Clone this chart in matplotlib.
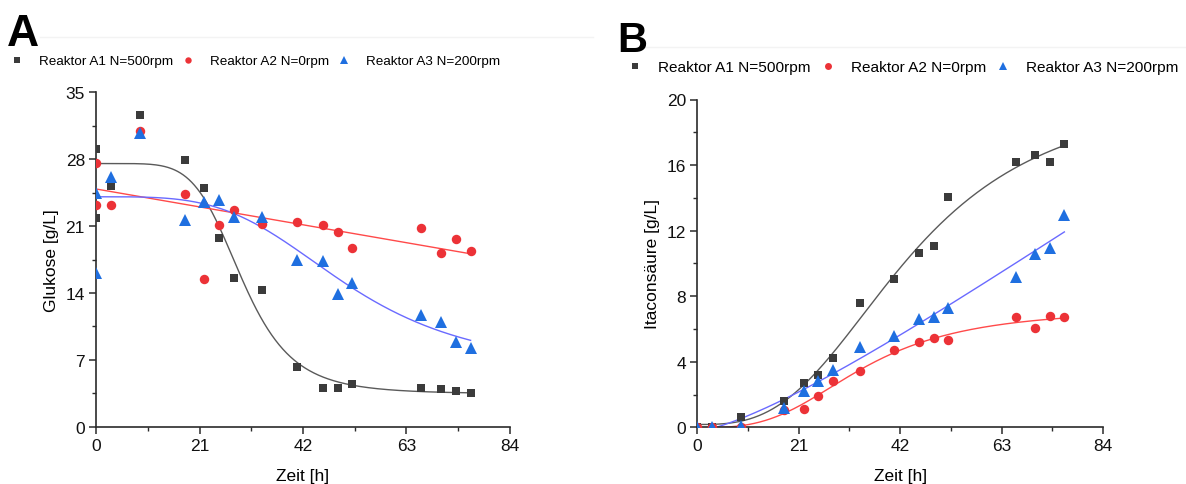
import numpy as np
import matplotlib
matplotlib.use("Agg")
import matplotlib.pyplot as plt
from matplotlib.ticker import MultipleLocator, FixedLocator
from matplotlib.lines import Line2D

plt.rcParams['font.family'] = ['Liberation Sans', 'DejaVu Sans']

# ---------------- data ----------------
series_labels = ["Reaktor A1 N=500rpm", "Reaktor A2 N=0rpm", "Reaktor A3 N=200rpm"]

# glucose [g/L]
time_glc = [0, 0, 3, 9, 18, 22, 25, 28, 33.75, 40.75, 46, 49, 52, 66, 70, 73, 76]
glc_a1 = [29.1, 21.8, 25.2, 32.6, 27.9, 25.0, 19.7, 15.6, 14.3, 6.3, 4.0, 4.0, 4.5, 4.0, 3.9, 3.7, 3.5]
glc_a2 = [27.6, 23.2, 23.2, 30.9, 24.4, 15.5, 21.1, 22.7, 21.2, 21.4, 21.1, 20.4, 18.7, 20.8, 18.2, 19.6, 18.4]
glc_a3 = [24.5, 16.1, 26.1, 30.7, 21.6, 23.5, 23.7, 22.0, 22.0, 17.5, 17.3, 13.9, 15.0, 11.7, 11.0, 8.9, 8.2]

# itaconic acid [g/L]
time_ita = [0, 3, 9, 18, 22, 25, 28, 33.75, 40.75, 46, 49, 52, 66, 70, 73, 76]
ita_a1 = [0.0, 0.02, 0.61, 1.63, 2.70, 3.21, 4.25, 7.60, 9.04, 10.65, 11.08, 14.07, 16.2, 16.63, 16.16, 17.3]
ita_a2 = [0.0, 0.0, 0.02, 1.05, 1.12, 1.89, 2.82, 3.41, 4.73, 5.22, 5.46, 5.34, 6.71, 6.04, 6.77, 6.74]
ita_a3 = [0.0, 0.02, 0.05, 1.20, 2.23, 2.80, 3.51, 4.92, 5.59, 6.62, 6.74, 7.25, 9.20, 10.60, 10.95, 12.94]

# regression model used for each trend line
models_glc = ['logistic', 'linear', 'logistic']
models_ita = ['logistic', 'logistic', 'logistic']

x_ticks = [0, 21, 42, 63, 84]
y_ticks_glc = [0, 7, 14, 21, 28, 35]
y_ticks_ita = [0, 4, 8, 12, 16, 20]

# ---------------- styling ----------------
axis_col = '#2b2b2b'
marker_cols = ['#3b3b3b', '#ec3237', '#1f6fe0']
curve_cols = ['#5a5a5a', '#ff4a4a', '#6a6aff']
markers = ['s', 'o', '^']
marker_sizes = [6.2, 6.8, 8.0]


def logistic(t, a1, a2, x0, p):
    t = np.asarray(t, float)
    return a2 + (a1 - a2) / (1.0 + (t / x0) ** p)


def fit_logistic(t, y):
    """Least-squares fit of y = A2 + (A1-A2)/(1+(t/x0)^p) on a (x0, p) grid,
    with A1/A2 solved exactly for every grid node."""
    t = np.asarray(t, float)
    y = np.asarray(y, float)
    x0s = np.geomspace(5, 3000, 260)
    ps = np.linspace(0.5, 20, 235)
    X0, P = np.meshgrid(x0s, ps, indexing='ij')
    f = 1.0 / (1.0 + (t[None, None, :] / X0[..., None]) ** P[..., None])
    g = 1.0 - f
    sff = (f * f).sum(-1); sgg = (g * g).sum(-1); sfg = (f * g).sum(-1)
    sfy = (f * y).sum(-1); sgy = (g * y).sum(-1)
    det = sff * sgg - sfg ** 2
    det = np.where(np.abs(det) < 1e-12, np.nan, det)
    a1 = (sfy * sgg - sgy * sfg) / det
    a2 = (sgy * sff - sfy * sfg) / det
    pred = a1[..., None] * f + a2[..., None] * g
    res = ((pred - y) ** 2).sum(-1)
    res = np.where(np.isfinite(res), res, np.inf)
    i, j = np.unravel_index(np.argmin(res), res.shape)
    return a1[i, j], a2[i, j], X0[i, j], P[i, j]


def trend(t, y, model, t_new):
    if model == 'linear':
        return np.polyval(np.polyfit(t, y, 1), t_new)
    return logistic(t_new, *fit_logistic(t, y))


def style_axes(ax, yticks):
    for s in ('top', 'right'):
        ax.spines[s].set_visible(False)
    for s in ('left', 'bottom'):
        ax.spines[s].set_color(axis_col)
        ax.spines[s].set_linewidth(1.2)
    ax.set_xlim(x_ticks[0], x_ticks[-1])
    ax.set_ylim(yticks[0], yticks[-1])
    ax.xaxis.set_major_locator(FixedLocator(x_ticks))
    ax.xaxis.set_minor_locator(MultipleLocator((x_ticks[1] - x_ticks[0]) / 2))
    ax.yaxis.set_major_locator(FixedLocator(yticks))
    ax.yaxis.set_minor_locator(MultipleLocator((yticks[1] - yticks[0]) / 2))
    ax.tick_params(which='major', direction='out', length=5, width=1.1,
                   color=axis_col, labelsize=12.5, labelcolor='#111111', pad=3)
    ax.tick_params(which='minor', direction='out', length=3, width=1.0, color=axis_col)


def draw_panel(ax, t, ys, models, yticks, ylabel):
    t_fit = np.linspace(min(t), max(t), 400)
    for y, model, cc in zip(ys, models, curve_cols):
        ax.plot(t_fit, trend(t, y, model, t_fit), color=cc, lw=1.0, zorder=2)
    for y, mc, mk, ms in zip(ys, marker_cols, markers, marker_sizes):
        ax.plot(t, y, linestyle='none', marker=mk, ms=ms, color=mc,
                markeredgewidth=0, zorder=3)
    style_axes(ax, yticks)
    ax.set_xlabel('Zeit [h]', fontsize=12.5)
    ax.set_ylabel(ylabel, fontsize=12.5)
    ax.xaxis.label.set_va('center')
    ax.yaxis.label.set_va('center')


W, H = 1186, 485
fig = plt.figure(figsize=(W / 100, H / 100), dpi=100)
fig.patch.set_facecolor('white')

axA = fig.add_axes([96 / W, 1 - 427.7 / H, 414 / W, 334.4 / H])
axB = fig.add_axes([697.3 / W, 1 - 428.3 / H, 405.7 / W, 327.8 / H])

draw_panel(axA, time_glc, [glc_a1, glc_a2, glc_a3], models_glc, y_ticks_glc, 'Glukose [g/L]')
draw_panel(axB, time_ita, [ita_a1, ita_a2, ita_a3], models_ita, y_ticks_ita, 'Itaconsäure [g/L]')

axA.xaxis.set_label_coords(0.5, (427.7 - 476.5) / 334.4)
axA.yaxis.set_label_coords((51.7 - 96) / 414, 0.5)
axB.xaxis.set_label_coords(0.5, (428.3 - 476.5) / 327.8)
axB.yaxis.set_label_coords((653 - 697.3) / 405.7, 0.5)

# faint panel separators along the top
fig.add_artist(Line2D([40 / W, 593 / W], [1 - 38 / H] * 2, color='#f3f3f3', lw=1))
fig.add_artist(Line2D([643 / W, 1.0], [1 - 48 / H] * 2, color='#f3f3f3', lw=1))

# panel letters
fig.text(7 / W, 1 - 34 / H, 'A', fontsize=32, fontweight='bold', va='center', ha='left')
fig.text(617 / W, 1 - 41 / H, 'B', fontsize=30, fontweight='bold', va='center', ha='left')


def legend_handles(ms):
    return [Line2D([], [], linestyle='none', marker=mk, color=mc, ms=ms_i,
                   markeredgewidth=0)
            for mk, mc, ms_i in zip(markers, marker_cols, ms)]


legA = fig.legend(handles=legend_handles([4.2, 4.6, 5.4]), labels=series_labels,
                  loc='center left', bbox_to_anchor=(10 / W, 1 - 62 / H), ncol=3,
                  frameon=False, fontsize=9.7, handlelength=1.0, handletextpad=1.13,
                  columnspacing=0.62, borderpad=0, borderaxespad=0)
legB = fig.legend(handles=legend_handles([4.5, 5.0, 5.8]), labels=series_labels,
                  loc='center left', bbox_to_anchor=(627 / W, 1 - 68 / H), ncol=3,
                  frameon=False, fontsize=11.1, handlelength=1.0, handletextpad=1.0,
                  columnspacing=0.62, borderpad=0, borderaxespad=0)

fig.savefig('out.png', dpi=100, facecolor='white')
